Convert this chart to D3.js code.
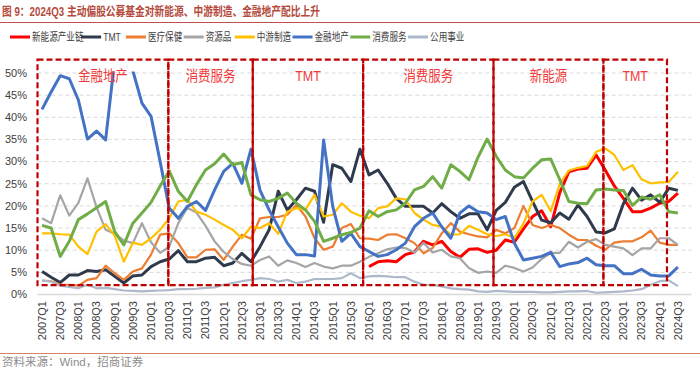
<!DOCTYPE html>
<html lang="zh">
<head>
<meta charset="utf-8">
<script src="https://d3js.org/d3.v7.min.js"></script>
<title>主动偏股公募基金配比</title>
<style>
body{margin:0;background:#ffffff;}
svg{display:block;font-family:"Liberation Sans",Arial,"Noto Sans CJK SC",sans-serif;}
</style>
</head>
<body>
<svg width="700" height="372"></svg>
<script>
// quarters 2007Q1 .. 2024Q4 (last slot is empty, as in the source chart)
var quarters = [];
for (var yr = 2007; yr <= 2024; yr++) for (var q = 1; q <= 4; q++) quarters.push(yr + "Q" + q);

var seriesNames = ["新能源产业链","TMT","医疗保健","资源品","中游制造","金融地产","消费服务","公用事业"];
var seriesColors = ["#ff0000","#2f3b4c","#ed7d31","#a5a5a5","#ffc000","#4472c4","#70ad47","#adb9ca"];
var seriesWidths = [3,3,2.2,2.2,2.2,3,3,2.2];

// values in %
var xny = [null,null,null,null,null,null,null,null,null,null,null,null,null,null,null,null,null,null,
  null,null,null,null,null,null,null,null,null,null,null,null,null,null,null,null,null,null,
  6.3,7.4,7.6,7.4,9,9.6,12,11.2,12,9.7,8.4,10.2,10.3,9.5,10,12.3,11.8,14.8,17.6,18.9,15.3,23,27.7,28.3,28.5,31.5,
  28.1,24.5,21.7,18.7,18.7,19.5,20.6,21,22.9];
var tmt = [5.2,3.9,2.7,4.4,4.4,5.4,5.2,5.6,4.1,2.6,4.2,4.4,6.3,7.4,8,9.9,7.4,7.4,8.2,8.4,6.5,7.1,9.3,7.4,
  10.8,14.6,23.3,19.1,21.4,24,23.3,16.3,29.3,28.5,25.5,32.8,27,28.1,25.1,21.7,19.9,19.9,19.9,18.4,20.5,18.7,17.2,18.2,
  18.2,14.6,19,20.8,24.2,25.5,21,16.8,16.2,18.4,17,20.2,17.6,14.1,13.9,14.8,20.5,24,21.3,22.5,20.8,24,23.5];
var ylbj = [3.1,3.0,2.2,2.2,2.0,3.3,3.7,6.5,4.8,3.3,5.2,5.9,9,13.5,13.8,11.6,8.4,8.4,10.1,10.2,7.8,10.8,13.5,12.6,
  17.2,17.5,17.5,18,20.2,17.6,12.7,10.1,10.8,15,15.9,12.7,12.6,12.3,13.5,13.6,12.7,11.6,9.3,10.5,13.8,16.1,14.2,13.6,
  13.1,12.9,14.6,13.8,15,20,15.7,15,15.7,15,13.5,12.3,12.3,11,10.1,11.7,12,12,12.9,14.4,11.7,11.2,11.2];
var zyp = [17.2,16.1,22.4,17.8,20.7,26.2,19.7,14.6,13.7,12.2,11.6,16.1,11.8,9.4,10.8,16.1,19.6,18.5,15.5,12,9.6,8,6.9,6.5,
  7.8,8.6,6.5,7.7,7.1,6.2,7.1,6.3,5.9,6.5,6.5,7.4,8.5,9.3,10.2,10.6,10.5,9.5,11.7,9.5,10.1,8.6,8.2,6,
  4.9,5.2,4.9,6.5,6,5.2,6.1,8,9.4,9.4,11.9,10.6,11.9,12.5,11.2,10.8,10.4,8.9,10.4,10.4,12.7,12.7,11.2];
var zyzz = [13.8,13.8,13.6,13.5,10.8,9.1,14.2,15.9,13.3,7.4,11.7,11.2,12.7,14.6,17.2,21,21.4,18.7,18,16.9,15.7,14.6,12.7,15.3,
  15,16.1,13.7,18.7,19.5,19.1,22.5,17.6,18,20.6,18.7,17.8,17.2,19.5,19.9,21.7,21.5,18.4,16.9,15.7,15.3,13.5,13.6,15.5,
  14.6,13.6,13.2,13.6,12.8,16,21,22.5,18.8,25,28,28.6,29,32.2,33,31.5,28.1,29.2,26,25.1,25.3,25.4,27.7];
var jrdc = [41.8,45.7,49.4,48.7,43.9,35.1,36.9,34.9,53,57,50.5,43.2,40.2,30,19.5,17.2,19.9,21,19,23.6,27.8,29.6,25.1,32.8,
  23.5,19.1,15.3,11.6,9,9,8.7,34.9,19.9,12,13.8,10.8,9.7,8.6,9,10.1,11.6,15.3,17.2,18.4,15.3,12.7,18.4,20,
  18.7,18.4,16.9,17.6,11.6,7.8,8.2,8.6,9.5,6.3,6.9,7.2,8.2,6.7,6.5,6.5,4.7,4.7,5.7,4.4,4.2,4.2,6.2];
var xffw = [15.6,15,8.6,12,16.9,18.2,19.6,21,14.2,11.2,16.1,18.4,20.8,24.5,27.9,23.3,21,24.8,28.1,29.5,31.7,29.3,29.8,22.5,
  21.4,21,21.7,22.9,20.6,19.1,16.5,12,12.7,13.5,14,15,18.9,17.6,18.7,19.1,20.6,23.6,24.4,26.6,24,29.3,27.8,25.9,
  31,35.1,31.2,28.1,26.6,26.3,28.5,30.4,30.6,25.9,21,20.6,20.5,23.6,23.8,23.6,23.5,20.1,22,21.5,22.5,18.7,18.4];
var gysy = [3.2,2.9,2.0,1.7,1.4,2.2,1.4,1.5,1.2,0.9,0.8,0.7,0.8,0.9,1.0,1.2,1.2,1.3,1.5,1.6,2.2,2.6,3.0,3.3,
  3.7,3.5,2.9,3.3,2.6,2.9,3.5,3.5,3.5,3.7,4.8,3.7,4.1,4.2,4.1,3.9,3.9,2.9,2.2,2.2,1.8,1.4,1.2,1.1,
  0.7,0.6,0.8,0.7,0.6,0.6,0.6,0.5,0.5,0.6,0.7,0.7,0.8,0.4,0.5,0.6,0.7,0.9,1.2,2.2,3.0,3.2,1.9];
var allSeries = [xny,tmt,ylbj,zyp,zyzz,jrdc,xffw,gysy];

var yTicks = [0,5,10,15,20,25,30,35,40,45,50];

// annotated periods (edges in quarter-slot units)
var boxLabels = ["金融地产","消费服务","TMT","消费服务","新能源","TMT"];
var boxEdges = [0,14.4,23.7,35.85,50.2,62.3,69.3];
var boxTop = 53, boxBottom = 2.1;

var titleText = "图 9：2024Q3 主动偏股公募基金对新能源、中游制造、金融地产配比上升";
var sourceText = "资料来源：Wind，招商证券";

var svg = d3.select("svg");
var plotL = 37.5, plotR = 691.5, plotT = 73, plotB = 294.5;

var x = d3.scaleBand().domain(quarters).range([plotL, plotR]).padding(0);
var xEdge = d3.scaleLinear().domain([0, quarters.length]).range([plotL, plotR]);
var y = d3.scaleLinear().domain([0, 50]).range([plotB, plotT]);

function squeeze(sel, k){
  sel.each(function(){
    var w = this.getComputedTextLength();
    d3.select(this).attr("textLength", w*k).attr("lengthAdjust","spacingAndGlyphs");
  });
}

// title + rules
svg.append("text")
.attr("x",2).attr("y",16)
.attr("fill","#b5493c")
.attr("font-weight","bold")
.attr("font-size",12.5)
.attr("textLength",318).attr("lengthAdjust","spacingAndGlyphs")
.text(titleText);

svg.append("line").attr("x1",0).attr("x2",700).attr("y1",22.5).attr("y2",22.5)
.attr("stroke","#c0504d").attr("stroke-width",1);

svg.append("line").attr("x1",0).attr("x2",700).attr("y1",353.5).attr("y2",353.5)
.attr("stroke","#d9826a").attr("stroke-width",1);

svg.append("text")
.attr("x",2).attr("y",366)
.attr("fill","#8c8c8c")
.attr("font-size",11.5)
.text(sourceText);

// legend
var lx = 10;
seriesNames.forEach(function(name, i){
  svg.append("line")
  .attr("x1",lx).attr("x2",lx+20).attr("y1",37).attr("y2",37)
  .attr("stroke",seriesColors[i]).attr("stroke-width",3);
  var t = svg.append("text")
  .attr("x",lx+22).attr("y",41)
  .attr("fill","#404040")
  .attr("font-size",11)
  .text(name);
  squeeze(t, 0.78);
  lx = lx + 22 + t.node().getComputedTextLength()*0.78 + 9;
});

// grid
svg.append("g").selectAll("line")
.data(yTicks.filter(function(d){return d>0;})).enter()
.append("line")
.attr("x1",plotL).attr("x2",plotR)
.attr("y1",function(d){return y(d);}).attr("y2",function(d){return y(d);})
.attr("stroke","#d9d9d9").attr("stroke-width",1)
.attr("stroke-dasharray","4,3");

svg.append("line")
.attr("x1",plotL).attr("x2",plotR).attr("y1",y(0)).attr("y2",y(0))
.attr("stroke","#d9d9d9").attr("stroke-width",1.5);

// y labels
svg.append("g").selectAll("text")
.data(yTicks).enter()
.append("text")
.attr("x",27).attr("y",function(d){return y(d);})
.attr("dy","0.35em")
.attr("text-anchor","end")
.attr("font-size",11)
.attr("fill","#404040")
.text(function(d){return d + "%";});

// x labels (every 2nd quarter)
svg.append("g").selectAll("text")
.data(quarters.filter(function(d,i){return i%2==0 && i<71;})).enter()
.append("text")
.attr("transform",function(d){return "translate(" + (x(d)+x.bandwidth()/2) + ",301) rotate(-90)";})
.attr("dy","0.35em")
.attr("text-anchor","end")
.attr("font-size",11)
.attr("fill","#404040")
.text(function(d){return d;});

// lines
svg.append("clipPath").attr("id","plotclip")
.append("rect").attr("x",plotL).attr("y",plotT-1.5).attr("width",plotR-plotL).attr("height",plotB-plotT+6);

var line = d3.line()
.defined(function(d){return d != null;})
.x(function(d,i){return x(quarters[i]) + x.bandwidth()/2;})
.y(function(d){return y(d);});

svg.append("g").attr("clip-path","url(#plotclip)")
.selectAll("path")
.data(allSeries).enter()
.append("path")
.attr("d",line)
.attr("fill","none")
.attr("stroke",function(d,i){return seriesColors[i];})
.attr("stroke-width",function(d,i){return seriesWidths[i];})
.attr("stroke-linejoin","round");

// dashed period boxes
var boxes = boxLabels.map(function(l,i){return {label:l, a:boxEdges[i], b:boxEdges[i+1]};});

svg.append("g").selectAll("rect")
.data(boxes).enter()
.append("rect")
.attr("x",function(d){return xEdge(d.a);})
.attr("y",y(boxTop))
.attr("width",function(d){return xEdge(d.b)-xEdge(d.a);})
.attr("height",y(boxBottom)-y(boxTop))
.attr("fill","none")
.attr("stroke","#c00000")
.attr("stroke-width",2.2)
.attr("stroke-dasharray","6,3");

var bl = svg.append("g").selectAll("text")
.data(boxes).enter()
.append("text")
.attr("x",function(d){return (xEdge(d.a)+xEdge(d.b))/2;})
.attr("y",81)
.attr("text-anchor","middle")
.attr("font-size",15)
.attr("fill","#f23a3a")
.text(function(d){return d.label;});
squeeze(bl, 0.83);
</script>
</body>
</html>
